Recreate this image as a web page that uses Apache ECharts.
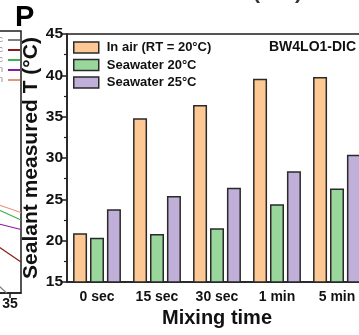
<!DOCTYPE html>
<html>
<head>
<meta charset="utf-8">
<script src="https://cdn.jsdelivr.net/npm/echarts@6/dist/echarts.min.js"></script>
<style>
  html, body { margin: 0; padding: 0; background: #fff; overflow: hidden; width: 359px; height: 335px; position: relative; }
  #chart { position: absolute; left: -400px; top: 0; width: 767px; height: 335px; }
</style>
</head>
<body>
<div id="chart"></div>
<script>
// ---- Main bar chart data ----
const categories = ['0 sec', '15 sec', '30 sec', '1 min', '5 min'];
const inAir = [20.9, 34.8, 36.4, 39.6, 39.8];
const sea20 = [20.35, 20.8, 21.5, 24.4, 26.3];
const sea25 = [23.8, 25.4, 26.4, 28.4, 30.4];
const seriesNames = ['In air (RT = 20°C)', 'Seawater 20°C', 'Seawater 25°C'];
const yTicks = [15, 20, 25, 30, 35, 40, 45];

// ---- Left neighbouring panel fragment (only its right edge is visible) ----
const leftNames = ['0 sec', '15 sec', '30 sec', '1 min', '5 min'];
const leftGray = [[34, 15.8], [34.7, 15.0]];
const leftRed = [[34, 20.27], [36, 18.55]];
const leftGreen = [[34, 24.5], [36, 23.36]];
const leftPurple = [[34, 22.9], [36, 22.27]];
const leftSalmon = [[34, 25.08], [36, 24.22]];

const FONT = 'Arial, "Liberation Sans", Helvetica, sans-serif';
const INK = '#1e1e1e';
const colors = ['#FDC893', '#99D69B', '#BFAFD9'];
const OFF = 400; // container is shifted 400px to the left

const chart = echarts.init(document.getElementById('chart'), null, { renderer: 'canvas' });

const barSeries = [inAir, sea20, sea25].map((d, i) => ({
  name: seriesNames[i],
  type: 'bar',
  xAxisIndex: 0,
  yAxisIndex: 0,
  data: d,
  barWidth: 14,
  barGap: '21%',
  itemStyle: { color: colors[i], borderColor: '#2a2a2a', borderWidth: 1.5 },
  emphasis: { disabled: true }
}));

const leftColors = ['#808080', '#8B1A1A', '#3DB24A', '#8E1A9E', '#E8957E'];
const leftData = [leftGray, leftRed, leftGreen, leftPurple, leftSalmon];
const lineSeries = leftData.map((d, i) => ({
  name: leftNames[i],
  type: 'line',
  xAxisIndex: 1,
  yAxisIndex: 1,
  data: d,
  showSymbol: false,
  lineStyle: { color: leftColors[i], width: 1.2 },
  itemStyle: { color: leftColors[i] },
  clip: true
}));

chart.setOption({
  animation: false,
  backgroundColor: '#fff',
  textStyle: { fontFamily: FONT },
  grid: [
    { left: OFF + 67, top: 34, right: 0, bottom: 53, show: true, borderColor: INK, borderWidth: 1.5, containLabel: false },
    { left: OFF - 375, top: 31, right: 346, bottom: 42, show: true, borderColor: INK, borderWidth: 1.5, containLabel: false }
  ],
  legend: [
    {
      data: seriesNames,
      orient: 'vertical',
      left: OFF + 73,
      top: 40.5,
      padding: 0,
      itemWidth: 25,
      itemHeight: 11,
      itemGap: 3.5,
      icon: 'rect',
      itemStyle: { borderColor: '#2a2a2a', borderWidth: 1.5 },
      textStyle: { fontFamily: FONT, fontWeight: 'bold', fontSize: 13, color: '#111', lineHeight: 14, padding: [0, 0, 0, 3] },
      selectedMode: false
    },
    {
      data: leftNames,
      orient: 'vertical',
      align: 'right',
      right: 347,
      top: 35,
      padding: 0,
      itemWidth: 12,
      itemHeight: 2,
      itemGap: 0,
      icon: 'rect',
      textStyle: { fontFamily: FONT, fontSize: 9, color: '#888', lineHeight: 10 },
      selectedMode: false
    }
  ],
  xAxis: [
    {
      type: 'category',
      gridIndex: 0,
      data: categories,
      axisLine: { lineStyle: { color: INK, width: 1.5 } },
      axisTick: { alignWithLabel: true, length: 5, lineStyle: { color: INK, width: 1.5 } },
      axisLabel: { fontFamily: FONT, fontWeight: 'bold', fontSize: 14, color: '#111', margin: 8 },
      name: 'Mixing time',
      nameLocation: 'middle',
      nameGap: 17,
      nameTextStyle: { fontFamily: FONT, fontWeight: 'bold', fontSize: 20, color: '#111' }
    },
    {
      type: 'value',
      gridIndex: 1,
      min: 0,
      max: 36,
      interval: 5,
      axisLine: { lineStyle: { color: INK, width: 1.5 } },
      axisTick: { length: 5, lineStyle: { color: INK, width: 1.5 } },
      axisLabel: { fontFamily: FONT, fontWeight: 'bold', fontSize: 14, color: '#111', margin: 4 },
      splitLine: { show: false }
    }
  ],
  yAxis: [
    {
      type: 'value',
      gridIndex: 0,
      min: yTicks[0],
      max: yTicks[yTicks.length - 1],
      interval: 5,
      axisLine: { show: true, lineStyle: { color: INK, width: 1.5 } },
      axisTick: { show: true, length: 5, lineStyle: { color: INK, width: 1.5 } },
      minorTick: { show: true, splitNumber: 2, length: 3, lineStyle: { color: INK, width: 1.2 } },
      splitLine: { show: false },
      axisLabel: { fontFamily: FONT, fontWeight: 'bold', fontSize: 15.5, color: '#111', margin: 4 },
      name: 'Sealant measured T (°C)',
      nameLocation: 'middle',
      nameGap: 19,
      nameTextStyle: { fontFamily: FONT, fontWeight: 'bold', fontSize: 21, color: '#111' }
    },
    {
      type: 'value',
      gridIndex: 1,
      min: 15,
      max: 45,
      interval: 5,
      axisLine: { show: true, lineStyle: { color: INK, width: 1.5 } },
      axisTick: { show: false },
      axisLabel: { show: false },
      splitLine: { show: false }
    }
  ],
  graphic: [
    { type: 'text', left: OFF + 15, top: 3, style: { text: 'P', font: 'bold 29px ' + FONT, fill: '#000' } },
    { type: 'text', left: OFF + 269, top: 40, style: { text: 'BW4LO1-DIC', font: 'bold 14px ' + FONT, fill: '#111' } },
    { type: 'text', left: OFF + 253, top: -17, style: { text: '(      )', font: 'bold 21px ' + FONT, fill: '#333' } }
  ],
  series: barSeries.concat(lineSeries)
});
</script>
</body>
</html>
